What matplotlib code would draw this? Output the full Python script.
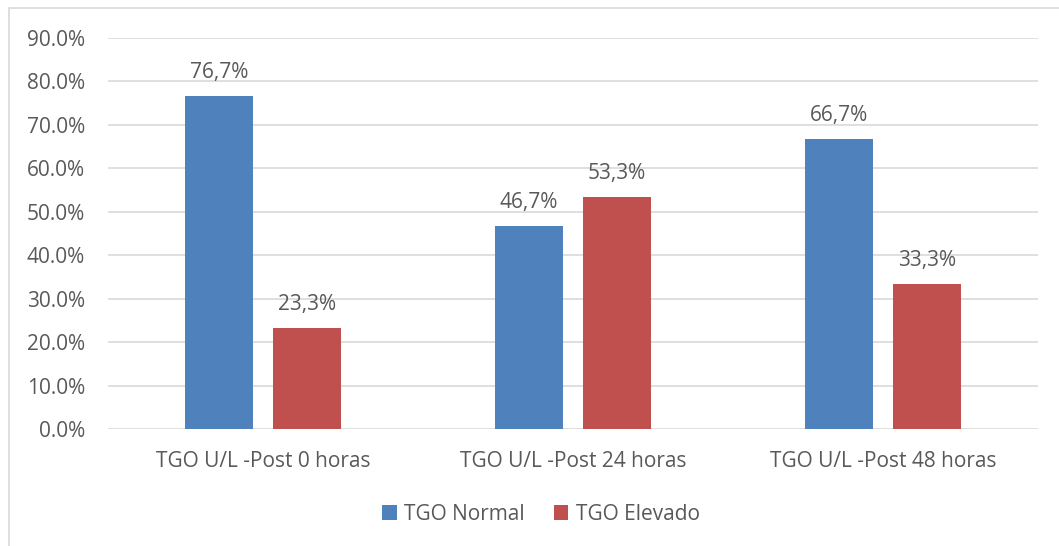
import matplotlib
matplotlib.use("Agg")
import matplotlib.pyplot as plt
import numpy as np
from matplotlib.patches import Rectangle

categories = ["TGO U/L -Post 0 horas", "TGO U/L -Post 24 horas", "TGO U/L -Post 48 horas"]
series_names = ["TGO Normal", "TGO Elevado"]
normal = [76.7, 46.7, 66.7]
elevado = [23.3, 53.3, 33.3]
yticks = [0, 10, 20, 30, 40, 50, 60, 70, 80, 90]

blue = "#4F81BD"
red = "#C0504D"
txt = "#595959"

plt.rcParams['font.family'] = ['Open Sans', 'DejaVu Sans']
FS = 15

W, H = 1059, 546
fig = plt.figure(figsize=(W/100, H/100), dpi=100)
fig.patch.set_facecolor("white")
# outer border
fig.add_artist(Rectangle((9/W, -0.01), 1.2, (H-8)/H + 0.01, transform=fig.transFigure,
                         fill=False, edgecolor="#D9D9D9", linewidth=1.2))

ax = fig.add_axes([108/W, 1-429/H, (1038-108)/W, (429-38)/H])
x = np.arange(len(categories))
bw = 0.22
off = 0.142
b1 = ax.bar(x - off, normal, bw, color=blue, label=series_names[0], zorder=3)
b2 = ax.bar(x + off, elevado, bw, color=red, label=series_names[1], zorder=3)

for bars, vals in ((b1, normal), (b2, elevado)):
    for r, v in zip(bars, vals):
        ax.text(r.get_x() + r.get_width()/2, v + 3.0, f"{v:.1f}%".replace(".", ","),
                ha="center", va="bottom", fontsize=FS, color=txt)

ax.set_xlim(-0.5, 2.5)
ax.set_ylim(0, 90)
ax.set_yticks(yticks)
ax.set_yticklabels([f"{t:.1f}%" for t in yticks])
ax.set_xticks(x)
ax.set_xticklabels(categories)
ax.tick_params(axis="both", length=0, labelsize=FS, colors=txt)
ax.tick_params(axis="y", pad=16.5)
ax.tick_params(axis="x", pad=16)
ax.grid(axis="y", color="#D9D9D9", linewidth=1.2, zorder=0)
for s in ax.spines.values():
    s.set_visible(False)

leg = fig.legend(handles=[b1, b2], loc="center", bbox_to_anchor=(541/W, 1-514/H), ncol=2,
                 frameon=False, fontsize=FS, handlelength=0.7, handleheight=0.7,
                 columnspacing=1.4, handletextpad=0.35)
for t in leg.get_texts():
    t.set_color(txt)

fig.savefig("out.png", dpi=100, facecolor="white")
